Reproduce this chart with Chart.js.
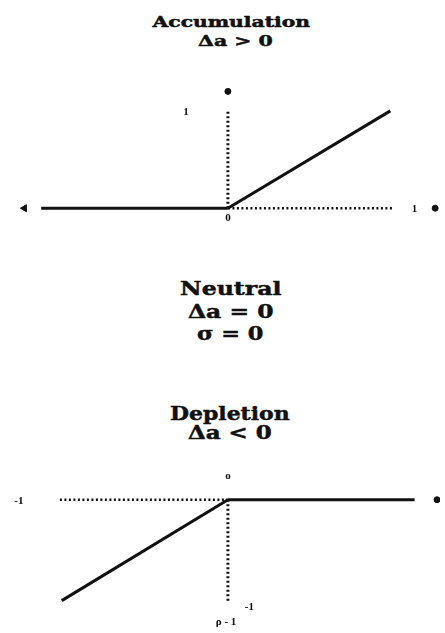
<!DOCTYPE html>
<html>
<head>
<meta charset="utf-8">
<script src="https://cdn.jsdelivr.net/npm/chart.js@4"></script>
<style>
    body { margin: 0; background: #fff; }
    #page { position: relative; width: 445px; height: 633px; overflow: hidden; }
    .title { position: absolute; font-family: "DejaVu Serif", serif; font-weight: bold; color: #111; white-space: nowrap; line-height: 1; transform-origin: center center; -webkit-text-stroke: 0.5px #111; }
    .panel { position: absolute; left: 0; width: 445px; }
    .lbl { position: absolute; font-family: "Liberation Serif", serif; font-weight: bold; font-size: 11px; color: #111; white-space: nowrap; line-height: 1; transform: translate(-50%, -50%); }
</style>
</head>
<body>
<div id="page">
    <div class="title" data-x="231" data-y="22" data-w="158" style="font-size:15px">Accumulation</div>
    <div class="title" data-x="235" data-y="41" data-w="75" style="font-size:15px">Δa &gt; 0</div>
    <div class="title" data-x="231" data-y="288" data-w="102" style="font-size:19px">Neutral</div>
    <div class="title" data-x="230" data-y="311" data-w="85" style="font-size:19px">Δa = 0</div>
    <div class="title" data-x="230" data-y="333" data-w="66" style="font-size:19px">σ = 0</div>
    <div class="title" data-x="230" data-y="413" data-w="120" style="font-size:19px">Depletion</div>
    <div class="title" data-x="230" data-y="433" data-w="84" style="font-size:18px">Δa &lt; 0</div>

    <div class="panel" id="accPanel" style="top:75px;height:155px"><canvas id="accChart"></canvas></div>
    <div class="panel" id="depPanel" style="top:457px;height:176px"><canvas id="depChart"></canvas></div>
</div>

<script>
// Painel de acumulação (Δa > 0)
const accFlatX = [-1, 0];
const accFlatY = [0, 0];
const accDottedX = [0, 0.89];
const accDottedY = [0, 0];
const accRiseX = [0, 0];
const accRiseY = [0, 1];
const accSlopeX = [0, 0.87];
const accSlopeY = [0, 1];
const accArrowX = [-1.09];
const accArrowY = [0];
const accDotX = [1.11, 0];
const accDotY = [0, 1.2];
const accLabelText = ['1', '0', '1'];
const accLabelX = [-0.225, 0, 1.0];
const accLabelY = [1.0, -0.09, 0];

// Painel de depleção (Δa < 0)
const depDottedX = [-0.9, 0];
const depDottedY = [0, 0];
const depFlatX = [0, 1.0];
const depFlatY = [0, 0];
const depDropX = [0, 0];
const depDropY = [0, -1];
const depSlopeX = [0, -0.89];
const depSlopeY = [0, -1];
const depDotX = [1.12];
const depDotY = [0];
const depLabelText = ['-1', 'o', '-1', 'ρ - 1'];
const depLabelX = [-1.12, 0, 0.115, -0.01];
const depLabelY = [0, 0.25, -1.05, -1.2];

const ink = '#111';

function toPoints(xs, ys) {
    return xs.map((x, i) => ({ x: x, y: ys[i] }));
}

function solid(xs, ys) {
    return { data: toPoints(xs, ys), showLine: true, borderColor: ink, borderWidth: 3, pointRadius: 0 };
}

function dotted(xs, ys, width) {
    return { data: toPoints(xs, ys), showLine: true, borderColor: ink, borderWidth: width, borderDash: [2, 2.5], pointRadius: 0 };
}

function marks(xs, ys, style, radius, rotation) {
    return { data: toPoints(xs, ys), showLine: false, pointStyle: style, pointRadius: radius, rotation: rotation || 0,
        pointBackgroundColor: ink, pointBorderColor: ink, pointBorderWidth: 1 };
}

// coloca as etiquetas como texto HTML, usando as escalas do gráfico
const htmlLabels = {
    id: 'htmlLabels',
    afterRender(chart, args, opts) {
        if (chart.$labelsDone) return;
        chart.$labelsDone = true;
        const panel = chart.canvas.parentNode;
        opts.text.forEach((t, i) => {
            const div = document.createElement('div');
            div.className = 'lbl';
            div.textContent = t;
            div.style.left = chart.scales.x.getPixelForValue(opts.xs[i]) + 'px';
            div.style.top = chart.scales.y.getPixelForValue(opts.ys[i]) + 'px';
            panel.appendChild(div);
        });
    }
};

function makeChart(id, datasets, yMin, yMax, labels) {
    return new Chart(document.getElementById(id).getContext('2d'), {
        type: 'scatter',
        data: { datasets: datasets },
        options: {
            responsive: true,
            maintainAspectRatio: false,
            animation: false,
            layout: { padding: 0 },
            scales: {
                x: { type: 'linear', display: false, min: -1.194, max: 1.136 },
                y: { type: 'linear', display: false, min: yMin, max: yMax }
            },
            plugins: {
                legend: { display: false },
                tooltip: { enabled: false },
                htmlLabels: labels
            }
        },
        plugins: [htmlLabels]
    });
}

document.addEventListener('DOMContentLoaded', function() {
    // títulos: centraliza e ajusta a largura
    document.querySelectorAll('.title').forEach(el => {
        const w = el.offsetWidth, h = el.offsetHeight;
        el.style.left = (parseFloat(el.dataset.x) - w / 2) + 'px';
        el.style.top = (parseFloat(el.dataset.y) - h / 2) + 'px';
        el.style.transform = 'scaleX(' + (parseFloat(el.dataset.w) / w) + ')';
    });

    makeChart('accChart', [
        solid(accFlatX, accFlatY),
        dotted(accDottedX, accDottedY, 2.5),
        dotted(accRiseX, accRiseY, 3),
        solid(accSlopeX, accSlopeY),
        marks(accArrowX, accArrowY, 'triangle', 4, -90),
        marks(accDotX, accDotY, 'circle', 3)
    ], -0.173, 1.317, { text: accLabelText, xs: accLabelX, ys: accLabelY });

    // o eixo fica em y = 497 px
    makeChart('depChart', [
        dotted(depDottedX, depDottedY, 2.5),
        solid(depFlatX, depFlatY),
        dotted(depDropX, depDropY, 3),
        solid(depSlopeX, depSlopeY),
        marks(depDotX, depDotY, 'circle', 3)
    ], -1.271, 0.374, { text: depLabelText, xs: depLabelX, ys: depLabelY });
});
</script>
</body>
</html>
